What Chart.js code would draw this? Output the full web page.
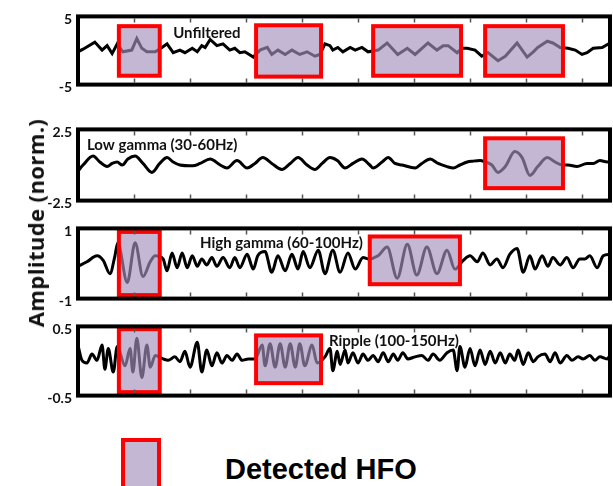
<!DOCTYPE html>
<html>
<head>
<meta charset="utf-8">
<script src="https://cdn.jsdelivr.net/npm/chart.js@4.4.0/dist/chart.umd.min.js"></script>
<style>
  body { margin: 0; background: #fff; }
  #wrap { position: relative; width: 613px; height: 486px; overflow: hidden; background: #fff; }
  #wrap canvas { position: absolute; left: 0; }
  #ylab {
    position: absolute; left: 35px; top: 223px;
    transform: translate(-50%, -50%) rotate(-90deg);
    font: bold 22px 'Open Sans', sans-serif; letter-spacing: 0.4px; color: #111; white-space: nowrap;
  }
  #legBox {
    position: absolute; left: 121px; top: 438px; width: 32px; height: 60px;
    border: 4px solid #ff0000; background: #c3b7d4;
  }
  #legText {
    position: absolute; left: 225px; top: 455px;
    font: bold 29px 'Liberation Sans', Arial, sans-serif; line-height: 29px; color: #000; white-space: nowrap;
  }
</style>
</head>
<body>
<div id="wrap">
  <canvas id="c1"></canvas>
  <canvas id="c2"></canvas>
  <canvas id="c3"></canvas>
  <canvas id="c4"></canvas>
  <div id="ylab">Amplitude (norm.)</div>
  <div id="legBox"></div>
  <div id="legText">Detected HFO</div>
</div>
<script>
// time axis, in tick units (ticks at 1..9)
const xMax = 9.5;

// Unfiltered trace (turning points)
const rawX = [0, 0.09, 0.30, 0.43, 0.52, 0.61, 0.70, 0.80, 0.96, 1.05,
  1.14, 1.23, 1.38, 1.50, 1.59, 1.70, 1.82, 1.91, 2.04, 2.13,
  2.21, 2.27, 2.36, 2.48, 2.59, 2.71, 2.80, 2.89, 2.98, 3.13,
  3.25, 3.38, 3.46, 3.57, 3.70, 3.82, 3.96, 4.09, 4.23, 4.32,
  4.41, 4.50, 4.55, 4.64, 4.73, 4.86, 4.95, 5.07, 5.18, 5.36,
  5.52, 5.71, 5.88, 6.02, 6.25, 6.41, 6.52, 6.61, 6.77, 6.86,
  6.95, 7.09, 7.21, 7.32, 7.50, 7.63, 7.84, 8.02, 8.13, 8.21,
  8.38, 8.48, 8.61, 8.75, 8.88, 9.00, 9.09, 9.20, 9.36, 9.50];
const rawY = [-0.19, 0.19, 1.23, 0.06, 0.71, -0.45, 0.97, -0.19, 0.06, 1.75,
  0.32, -0.19, -0.19, 0.45, 0.97, -0.32, 0.06, -0.32, 0.32, -0.19,
  0.71, 0.45, 1.62, 0.71, 0.97, 0.06, 0.32, -0.32, -0.19, -0.97,
  0.06, 0.45, -0.58, 0.06, -0.58, 0.06, -0.58, -0.19, -0.84, -0.58,
  0.97, 0.71, 0.06, 0.45, -0.19, 0.45, 0.06, 0.45, -0.19, 0.06,
  1.10, -0.58, 0.32, -0.58, 1.10, 0.06, 0.71, 0.71, -0.32, 0.32,
  0.32, 0.06, -0.84, -0.32, -1.49, -0.84, 1.10, -0.97, -0.19, 0.45,
  1.36, 1.10, 0.45, 0.32, 0.06, -0.58, -0.32, 0.32, 0.45, 1.10];

// Low gamma (30-60Hz)
const lowX = [0, 0.09, 0.27, 0.39, 0.52, 0.61, 0.70, 0.79, 0.89, 1.02,
  1.16, 1.32, 1.46, 1.59, 1.70, 1.82, 2.05, 2.18, 2.36, 2.54,
  2.66, 2.84, 3.02, 3.16, 3.30, 3.46, 3.64, 3.79, 3.93, 4.09,
  4.23, 4.36, 4.50, 4.63, 4.77, 4.91, 5.07, 5.21, 5.27, 5.43,
  5.54, 5.66, 5.79, 6.02, 6.14, 6.29, 6.43, 6.59, 6.70, 6.82,
  6.95, 7.05, 7.18, 7.27, 7.39, 7.50, 7.63, 7.80, 7.93, 8.07,
  8.21, 8.38, 8.52, 8.64, 8.75, 8.91, 9.09, 9.20, 9.32, 9.45,
  9.50];
const lowY = [-0.42, 0, 0.63, 0.21, -0.11, 0.11, 0.21, 0, 0.42, 0.63,
  0.11, -0.52, 0.11, 0.52, 0.21, 0, -0.06, 0.11, 0.42, 0,
  -0.21, 0.31, -0.21, 0.11, 0.52, 0.11, -0.31, 0.11, 0.52, 0,
  -0.31, 0.11, 0.52, 0.31, -0.21, 0.11, 0.42, 0, -0.21, 0.21,
  0.52, 0.11, 0, -0.21, 0.11, 0.42, 0.11, -0.11, -0.21, 0,
  0.21, 0.27, 0.31, 0.21, 0, -0.52, -0.11, 0.94, 0.52, -0.73,
  -0.11, 0.52, 0.21, 0, 0, -0.11, 0.11, 0.11, 0.31, 0.21,
  0.31];

// High gamma (60-100Hz)
const highX = [0, 0.16, 0.34, 0.45, 0.57, 0.66, 0.71, 0.88, 1.02, 1.16,
  1.29, 1.38, 1.52, 1.59, 1.68, 1.77, 1.86, 1.95, 2.04, 2.13,
  2.21, 2.30, 2.39, 2.48, 2.59, 2.71, 2.80, 2.89, 3.02, 3.13,
  3.21, 3.34, 3.46, 3.57, 3.70, 3.82, 3.93, 4.02, 4.14, 4.29,
  4.41, 4.55, 4.68, 4.82, 4.95, 5.09, 5.18, 5.36, 5.52, 5.70,
  5.88, 6.05, 6.23, 6.41, 6.59, 6.73, 6.88, 7.00, 7.13, 7.23,
  7.36, 7.48, 7.59, 7.71, 7.84, 7.95, 8.07, 8.16, 8.29, 8.39,
  8.48, 8.61, 8.73, 8.84, 8.96, 9.05, 9.14, 9.27, 9.38, 9.50];
const highY = [-0.08, 0.05, 0.22, 0.09, -0.29, 0.22, 0.59, -0.54, 0.59, -0.37,
  0.05, 0.22, 0.13, -0.21, 0.30, -0.12, 0.30, -0.12, 0.22, -0.08,
  0.13, -0.04, 0.17, -0.08, 0.17, -0.12, 0.17, -0.12, 0.26, -0.16,
  0.22, 0.34, -0.25, 0.22, -0.21, 0.26, -0.16, 0.34, -0.12, 0.38,
  -0.29, 0.38, -0.25, 0.30, -0.16, 0.17, 0.13, 0.22, 0.47, -0.42,
  0.55, -0.33, 0.47, -0.29, 0.38, -0.16, 0.09, 0.22, 0.05, 0.30,
  -0.04, 0.13, -0.12, 0.26, 0.43, -0.25, 0.22, -0.16, 0.22, -0.08,
  0.17, -0.04, 0.17, -0.12, 0.13, 0.13, 0.22, -0.12, 0.22, 0.26];

// Ripple (100-150Hz)
const rippleX = [0, 0.07, 0.16, 0.25, 0.34, 0.43, 0.48, 0.54, 0.63, 0.70,
  0.84, 0.93, 0.98, 1.05, 1.14, 1.23, 1.29, 1.38, 1.52, 1.61,
  1.73, 1.82, 1.91, 2.00, 2.13, 2.21, 2.30, 2.39, 2.48, 2.57,
  2.66, 2.75, 2.84, 2.93, 3.04, 3.16, 3.29, 3.34, 3.43, 3.52,
  3.61, 3.70, 3.79, 3.88, 3.96, 4.05, 4.18, 4.27, 4.41, 4.50,
  4.55, 4.63, 4.68, 4.77, 4.82, 4.91, 5.00, 5.09, 5.18, 5.27,
  5.36, 5.45, 5.54, 5.63, 5.71, 5.80, 5.89, 6.02, 6.14, 6.25,
  6.34, 6.46, 6.59, 6.70, 6.77, 6.82, 6.91, 7.00, 7.09, 7.18,
  7.27, 7.36, 7.45, 7.54, 7.63, 7.71, 7.80, 7.86, 7.95, 8.04,
  8.13, 8.21, 8.34, 8.43, 8.52, 8.61, 8.73, 8.82, 8.93, 9.02,
  9.14, 9.23, 9.32, 9.45, 9.50];
const rippleY = [0.23, 0.01, -0.03, 0.10, 0.01, 0.23, -0.12, 0.18, -0.16, 0.21,
  -0.07, 0.18, -0.16, 0.33, -0.24, 0.23, -0.09, 0.08, 0.03, 0.01,
  0.06, -0.01, 0.14, -0.09, 0.27, -0.16, 0.16, -0.07, 0.12, -0.03,
  0.08, 0.01, 0.10, 0.01, 0.03, 0.03, 0.23, -0.07, 0.25, -0.09,
  0.25, -0.09, 0.25, -0.09, 0.25, -0.07, 0.23, -0.03, 0.06, 0.18,
  -0.14, 0.14, -0.05, 0.16, -0.03, 0.12, -0.03, 0.10, 0.01, 0.08,
  -0.01, 0.12, -0.01, 0.10, 0.01, 0.12, 0.03, 0.06, 0.08, 0.01,
  0.10, 0.01, 0.12, 0.16, -0.14, 0.21, -0.09, 0.18, -0.07, 0.16,
  -0.05, 0.14, -0.03, 0.12, -0.03, 0.10, 0.01, 0.16, -0.05, 0.12,
  -0.01, 0.06, 0.10, -0.01, 0.12, -0.03, 0.08, 0.01, 0.06, 0.03,
  0.08, 0.01, 0.06, 0.03, 0.08];

// detected HFO windows: [xStart, xEnd, yLow, yHigh]
const rawHfo = [[0.73, 1.46, -3.70, 3.57], [3.18, 4.34, -3.83, 3.70],
  [5.27, 6.84, -3.70, 3.57], [7.27, 8.66, -3.70, 3.57]];
const lowHfo = [[7.27, 8.66, -1.625, 1.875]];
const highHfo = [[0.73, 1.46, -0.90, 0.90], [5.21, 6.82, -0.59, 0.77]];
const rippleHfo = [[0.73, 1.46, -0.45, 0.46], [3.18, 4.34, -0.32, 0.37]];

const panels = [
  { id: 'c1', top: 12, bottom: 89, lim: 5, xs: rawX, ys: rawY, boxes: rawHfo,
    title: 'Unfiltered', titleAt: [1.70, 2.53], smooth: false },
  { id: 'c2', top: 125, bottom: 205, lim: 2.5, xs: lowX, ys: lowY, boxes: lowHfo,
    title: 'Low gamma (30-60Hz)', titleAt: [0.16, 1.375], smooth: true },
  { id: 'c3', top: 224, bottom: 303, lim: 1, xs: highX, ys: highY, boxes: highHfo,
    title: 'High gamma (60-100Hz)', titleAt: [2.18, 0.59], smooth: true },
  { id: 'c4', top: 322, bottom: 400, lim: 0.5, xs: rippleX, ys: rippleY, boxes: rippleHfo,
    title: 'Ripple (100-150Hz)', titleAt: [4.48, 0.29], smooth: true }
];

const pad = 10;

const hfoPlugin = {
  id: 'hfo',
  afterDatasetsDraw(chart, args, opts) {
    const { ctx, scales: { x, y } } = chart;
    ctx.save();
    opts.boxes.forEach(b => {
      const l = x.getPixelForValue(b[0]);
      const r = x.getPixelForValue(b[1]);
      const t = y.getPixelForValue(b[3]);
      const bt = y.getPixelForValue(b[2]);
      ctx.fillStyle = 'rgba(163,144,189,0.65)';
      ctx.fillRect(l, t, r - l, bt - t);
      ctx.strokeStyle = '#ff0000';
      ctx.lineWidth = 4;
      ctx.strokeRect(l, t, r - l, bt - t);
    });
    ctx.restore();
  },
  afterDraw(chart, args, opts) {
    const { ctx, chartArea: a, scales: { x, y } } = chart;
    ctx.save();
    // small inward ticks on top and bottom edges
    ctx.strokeStyle = '#555';
    ctx.lineWidth = 1.5;
    for (let t = 1; t <= 9; t++) {
      const px = Math.round(x.getPixelForValue(t)) + 0.5;
      ctx.beginPath();
      ctx.moveTo(px, a.top + 2);
      ctx.lineTo(px, a.top + 6);
      ctx.moveTo(px, a.bottom - 2);
      ctx.lineTo(px, a.bottom - 6);
      ctx.stroke();
    }
    ctx.strokeStyle = '#000';
    ctx.lineWidth = 4;
    ctx.strokeRect(a.left, a.top, a.right - a.left, a.bottom - a.top);

    ctx.fillStyle = '#111';
    ctx.font = 'bold 15px Lato';
    ctx.textAlign = 'left';
    ctx.textBaseline = 'middle';
    ctx.fillText(opts.title, x.getPixelForValue(opts.titleAt[0]), y.getPixelForValue(opts.titleAt[1]));
    ctx.restore();
  }
};

function makePanel(p) {
  const canvas = document.getElementById(p.id);
  canvas.width = 613;
  canvas.height = p.bottom - p.top + pad * 2;
  canvas.style.top = (p.top - pad) + 'px';

  return new Chart(canvas, {
    type: 'line',
    data: {
      datasets: [{
        data: p.xs.map((v, i) => ({ x: v, y: p.ys[i] })),
        borderColor: '#000',
        borderWidth: 3,
        pointRadius: 0,
        cubicInterpolationMode: p.smooth ? 'monotone' : 'default',
        tension: p.smooth ? 0.4 : 0
      }]
    },
    options: {
      responsive: false,
      animation: false,
      devicePixelRatio: 1,
      layout: { padding: { top: pad, bottom: pad, left: 0, right: 3 } },
      plugins: {
        legend: { display: false },
        tooltip: { enabled: false },
        hfo: { boxes: p.boxes, title: p.title, titleAt: p.titleAt }
      },
      scales: {
        x: { type: 'linear', min: 0, max: xMax, display: false },
        y: {
          min: -p.lim,
          max: p.lim,
          grid: { display: false, drawTicks: false },
          border: { display: false },
          afterBuildTicks: s => { s.ticks = [{ value: -p.lim }, { value: p.lim }]; },
          afterFit: s => { s.width = 78; },
          ticks: {
            padding: 6,
            labelOffset: 3,
            color: '#111',
            font: { family: 'Lato', weight: 'bold', size: 14 }
          }
        }
      }
    },
    plugins: [hfoPlugin]
  });
}

Promise.all([
  document.fonts.load('bold 15px Lato'),
  document.fonts.load('bold 22px "Open Sans"'),
  document.fonts.load('bold 29px "Liberation Sans"')
]).catch(() => {}).then(() => {
  panels.forEach(makePanel);
});
</script>
</body>
</html>
